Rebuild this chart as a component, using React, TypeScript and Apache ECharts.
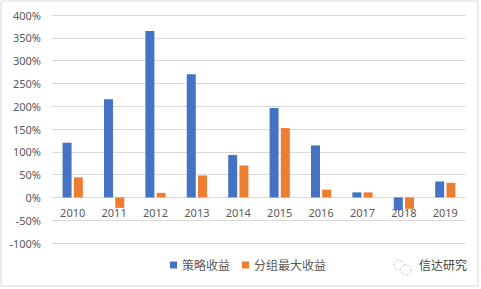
import React, { useEffect, useRef } from "react";
import * as echarts from "echarts";

const categories = ["2010", "2011", "2012", "2013", "2014", "2015", "2016", "2017", "2018", "2019"];
const strategyReturn = [120, 215, 365, 270, 93, 196, 114, 11, -28, 35];
const groupMaxReturn = [44, -23, 10, 48, 70, 152, 17, 11, -25, 32];
const seriesNames = ["策略收益", "分组最大收益"];
const watermark = "信达研究";

export default function App() {
  const ref = useRef<HTMLDivElement>(null);
  useEffect(() => {
    if (!ref.current) return;
    const chart = echarts.init(ref.current, null, { renderer: "svg" });
    const font = "'Noto Sans', 'Noto Sans CJK SC', sans-serif";
    chart.setOption({
      animation: false,
      backgroundColor: "#ffffff",
      textStyle: { fontFamily: font },
      grid: { left: 52, right: 15, top: 15, bottom: 46, containLabel: false },
      legend: {
        data: seriesNames,
        bottom: 13,
        left: 165,
        itemWidth: 7,
        itemHeight: 7,
        itemGap: 12,
        icon: "rect",
        textStyle: { color: "#595959", fontSize: 12, fontFamily: font },
      },
      xAxis: {
        type: "category",
        data: categories,
        position: "bottom",
        offset: -45.7,
        axisLine: { show: false, onZero: false },
        axisTick: { show: false },
        axisLabel: { color: "#595959", fontSize: 11, margin: 10 },
      },
      yAxis: {
        type: "value",
        min: -100,
        max: 400,
        interval: 50,
        axisLine: { show: false },
        axisTick: { show: false },
        axisLabel: { color: "#595959", fontSize: 11, margin: 11, formatter: "{value}%" },
        splitLine: { lineStyle: { color: "#d9d9d9", width: 1 } },
      },
      series: [
        {
          name: seriesNames[0],
          type: "bar",
          data: strategyReturn,
          barWidth: 9,
          barGap: "25%",
          itemStyle: { color: "#4472c4" },
        },
        {
          name: seriesNames[1],
          type: "bar",
          data: groupMaxReturn,
          barWidth: 9,
          itemStyle: { color: "#ed7d31" },
        },
      ],
      graphic: [
        {
          type: "rect",
          shape: { x: 1, y: 1, width: 477, height: 285 },
          style: { fill: "none", stroke: "#d9d9d9", lineWidth: 1 },
          silent: true,
        },
        {
          type: "circle",
          shape: { cx: 399, cy: 265, r: 5 },
          style: { fill: "none", stroke: "#bbbbbb", lineWidth: 1, lineDash: [1.5, 1.5] },
        },
        {
          type: "circle",
          shape: { cx: 406, cy: 270, r: 5 },
          style: { fill: "#ffffff", stroke: "#bbbbbb", lineWidth: 1, lineDash: [1.5, 1.5] },
        },
        {
          type: "text",
          left: 419,
          top: 259,
          style: { text: watermark, fill: "#444444", fontSize: 12, fontFamily: font },
        },
      ],
    });
    return () => chart.dispose();
  }, []);
  return (
    <div
      ref={ref}
      style={{ position: "fixed", left: 0, top: 0, width: 481, height: 289 }}
    />
  );
}
